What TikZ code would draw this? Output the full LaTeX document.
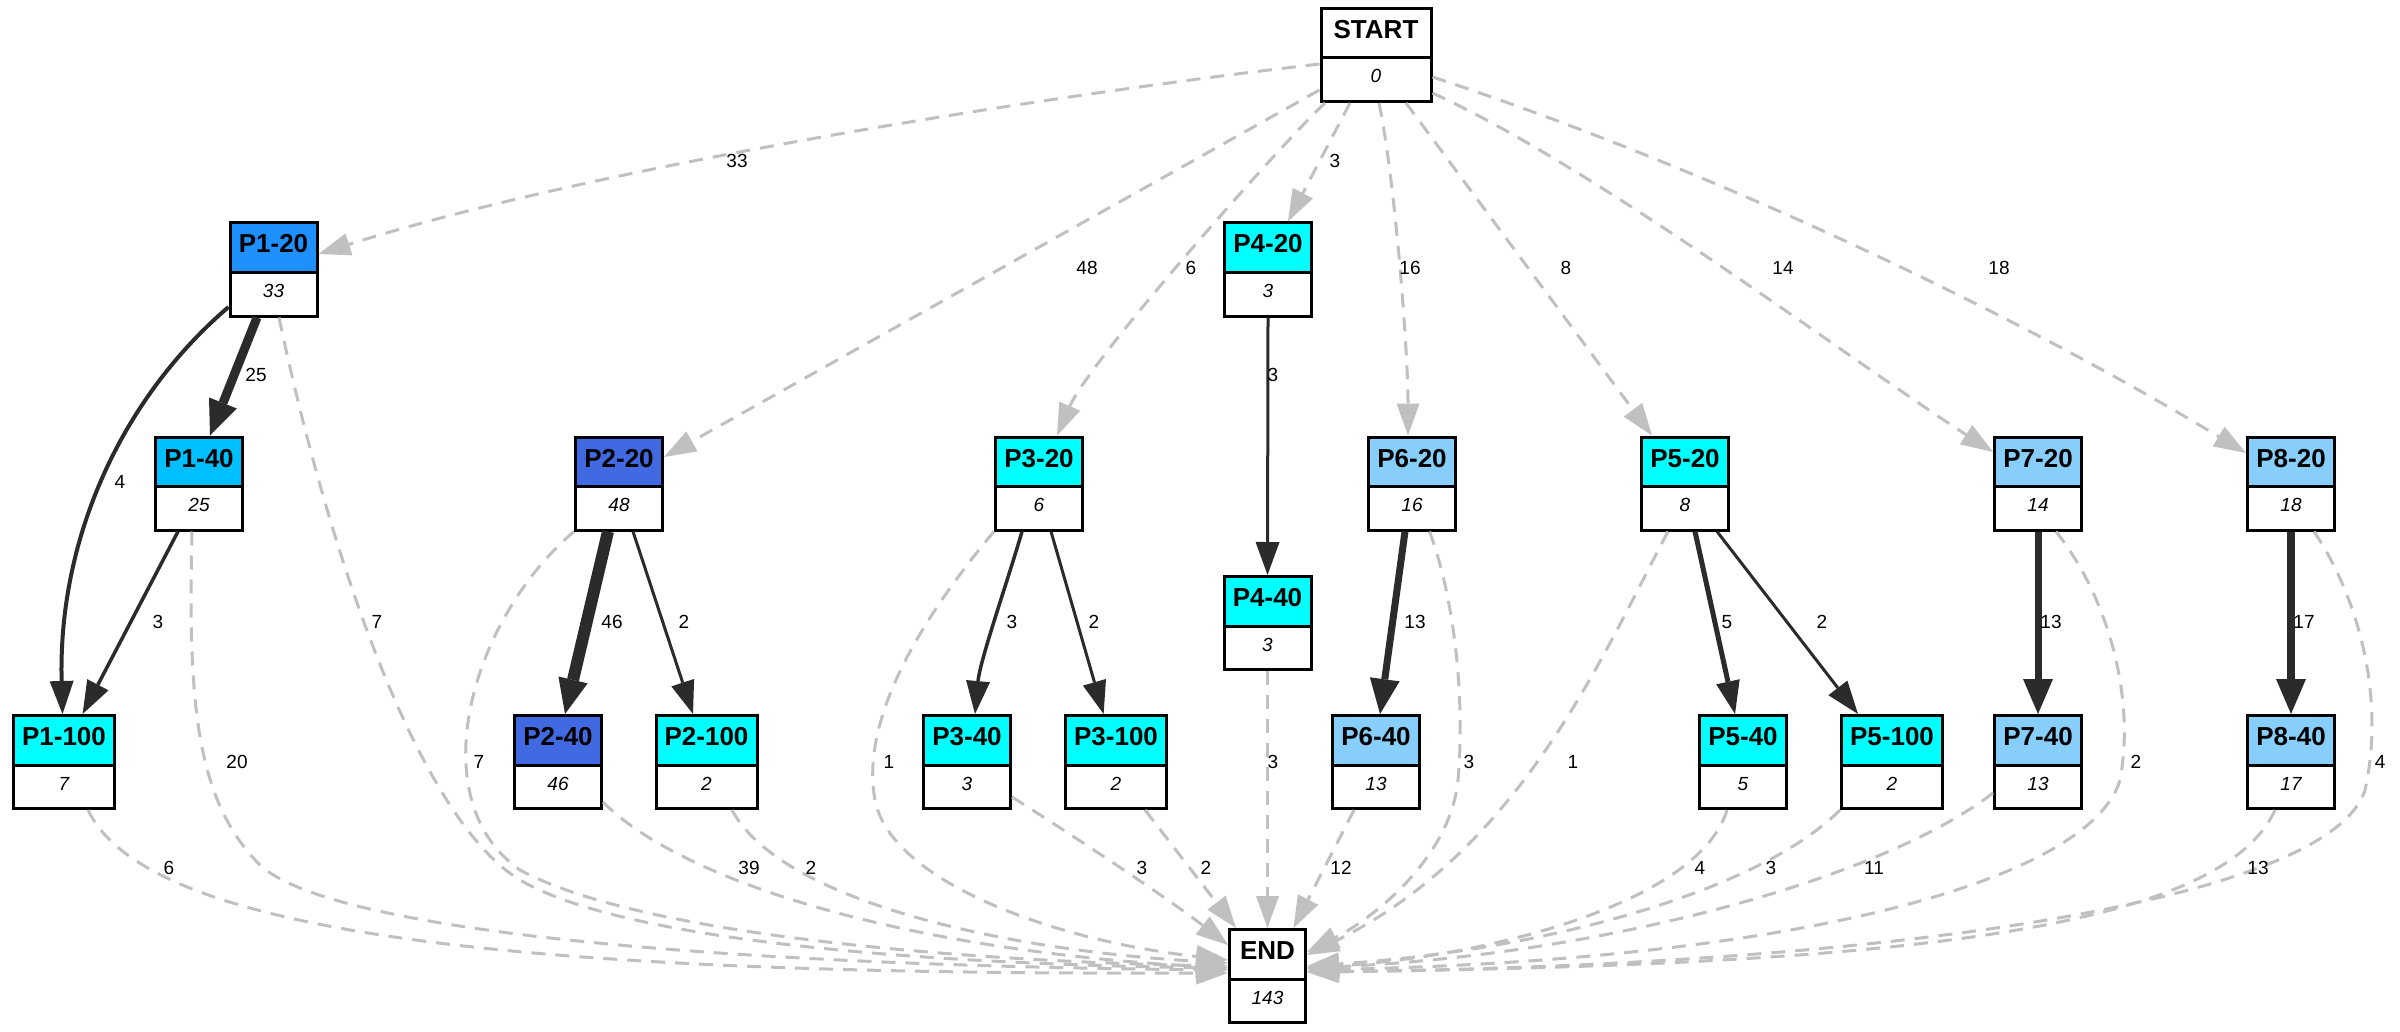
\documentclass[tikz,border=0pt]{standalone}
\usepackage{fontspec}
\setmainfont{Liberation Sans}
\usetikzlibrary{shapes.multipart,arrows.meta}
\definecolor{edgedark}{HTML}{2B2B2B}
\definecolor{edgegray}{HTML}{C0C0C0}
\definecolor{dodger}{HTML}{1E90FF}
\definecolor{deepsky}{HTML}{00BFFF}
\definecolor{aqua}{HTML}{00FFFF}
\definecolor{royal}{HTML}{4169E1}
\definecolor{lightsky}{HTML}{87CEFA}
% header and count cells of a record node, with fixed cell heights
\newcommand\boxhead[1]{\fontsize{26pt}{26pt}\selectfont\bfseries\rule[-18pt]{0pt}{46.5pt}#1}
\newcommand\boxval[1]{\fontsize{19pt}{19pt}\selectfont\itshape\rule[-17pt]{0pt}{40.5pt}#1}
\begin{document}
\begin{tikzpicture}[x=1pt,y=-1pt,
  box/.style={rectangle split, rectangle split parts=2, draw=black, line width=3pt,
    inner xsep=0pt, inner ysep=0pt, minimum width=87pt,
    rectangle split part fill={#1,white}},
  wide/.style={minimum width=101pt},
  flow/.style={draw=edgedark, line width=#1, -{Triangle[length=33pt,width=24pt,line width=0pt]}},
  heavy/.style={draw=edgedark, line width=#1, -{Triangle[length=35pt,width=30pt,line width=0pt]}},
  skip/.style={draw=edgegray, line width=3pt, dash pattern=on 14pt off 10pt,
    -{Triangle[length=32pt,width=23pt,line width=0pt]}},
  elab/.style={font=\fontsize{19pt}{19pt}\selectfont, inner sep=0pt, text=black}]
\useasboundingbox (0,0) rectangle (2400,1032);

% record nodes
\node[box=white, minimum width=110pt] (start) at (1376,55) {\boxhead{START}\nodepart{two}\boxval{0}};
\node[box=dodger] (p120) at (273.5,269.5) {\boxhead{P1-20}\nodepart{two}\boxval{33}};
\node[box=deepsky] (p140) at (199,483.5) {\boxhead{P1-40}\nodepart{two}\boxval{25}};
\node[box=aqua, wide] (p1100) at (64,762) {\boxhead{P1-100}\nodepart{two}\boxval{7}};
\node[box=royal] (p220) at (619,483.5) {\boxhead{P2-20}\nodepart{two}\boxval{48}};
\node[box=royal] (p240) at (558,762) {\boxhead{P2-40}\nodepart{two}\boxval{46}};
\node[box=aqua, wide] (p2100) at (706.5,762) {\boxhead{P2-100}\nodepart{two}\boxval{2}};
\node[box=aqua] (p320) at (1039,483.5) {\boxhead{P3-20}\nodepart{two}\boxval{6}};
\node[box=aqua] (p340) at (967,762) {\boxhead{P3-40}\nodepart{two}\boxval{3}};
\node[box=aqua, wide] (p3100) at (1116,762) {\boxhead{P3-100}\nodepart{two}\boxval{2}};
\node[box=aqua] (p420) at (1268,269.5) {\boxhead{P4-20}\nodepart{two}\boxval{3}};
\node[box=aqua] (p440) at (1267.5,623) {\boxhead{P4-40}\nodepart{two}\boxval{3}};
\node[box=lightsky] (p620) at (1412,483.5) {\boxhead{P6-20}\nodepart{two}\boxval{16}};
\node[box=lightsky] (p640) at (1376,762) {\boxhead{P6-40}\nodepart{two}\boxval{13}};
\node[box=aqua] (p520) at (1685,483.5) {\boxhead{P5-20}\nodepart{two}\boxval{8}};
\node[box=aqua] (p540) at (1743,762) {\boxhead{P5-40}\nodepart{two}\boxval{5}};
\node[box=aqua, wide] (p5100) at (1892,762) {\boxhead{P5-100}\nodepart{two}\boxval{2}};
\node[box=lightsky] (p720) at (2038,483.5) {\boxhead{P7-20}\nodepart{two}\boxval{14}};
\node[box=lightsky] (p740) at (2038,762) {\boxhead{P7-40}\nodepart{two}\boxval{13}};
\node[box=lightsky] (p820) at (2291,483.5) {\boxhead{P8-20}\nodepart{two}\boxval{18}};
\node[box=lightsky] (p840) at (2291,762) {\boxhead{P8-40}\nodepart{two}\boxval{17}};
\node[box=white, minimum width=76pt] (stop) at (1267.5,976) {\boxhead{END}\nodepart{two}\boxval{143}};

% entries from START
\draw[skip] ([yshift=-9pt]start.west) .. controls (1050,95) and (600,165) .. ([yshift=15.5pt]p120.east);
\draw[skip] ([yshift=-35pt]start.west) -- ([yshift=26.5pt]p220.east);
\draw[skip] ([xshift=-51pt]start.south) .. controls (1280,145) and (1090,360) .. ([xshift=18pt]p320.north);
\draw[skip] ([xshift=-26pt]start.south) -- ([xshift=20pt]p420.north);
\draw[skip] ([xshift=3pt]start.south) .. controls (1395,180) and (1408,350) .. ([xshift=-4pt]p620.north);
\draw[skip] ([xshift=30pt]start.south) -- ([xshift=-33pt]p520.north);
\draw[skip] ([yshift=-38pt]start.east) .. controls (1600,170) and (1850,360) .. ([yshift=31.5pt]p720.west);
\draw[skip] ([yshift=-22pt]start.east) .. controls (1700,165) and (2000,305) .. ([yshift=30.5pt]p820.west);

% transitions between stages
\draw[heavy=9pt] ([xshift=-16.5pt]p120.south) -- ([xshift=11pt]p140.north);
\draw[flow=4pt] ([yshift=-37.5pt]p120.west) .. controls (120,400) and (58,540) .. ([xshift=-1.5pt]p1100.north);
\draw[flow=3.5pt] ([xshift=-21pt]p140.south) -- ([xshift=18.6pt]p1100.north);
\draw[heavy=12pt] ([xshift=-11pt]p220.south) -- ([xshift=7pt]p240.north);
\draw[flow=3pt] ([xshift=14pt]p220.south) -- ([xshift=-13.5pt]p2100.north);
\draw[flow=3.5pt] ([xshift=-17pt]p320.south) .. controls (1008,580) and (980,660) .. ([xshift=8pt]p340.north);
\draw[flow=3pt] ([xshift=12pt]p320.south) -- ([xshift=-12.4pt]p3100.north);
\draw[flow=3pt] (p420.south) -- (p440.north);
\draw[heavy=7pt] ([xshift=-7pt]p620.south) -- ([xshift=4pt]p640.north);
\draw[flow=5pt] ([xshift=10pt]p520.south) -- ([xshift=-8pt]p540.north);
\draw[flow=3pt] ([xshift=32pt]p520.south) -- ([xshift=-34pt]p5100.north);
\draw[heavy=7pt] (p720.south) -- (p740.north);
\draw[heavy=8pt] (p820.south) -- (p840.north);

% exits to END
\draw[skip] ([xshift=24pt]p1100.south) .. controls (150,940) and (550,975) .. ([yshift=3pt]stop.west);
\draw[skip] ([xshift=-7pt]p140.south) .. controls (188,700) and (195,800) .. (260,865)
  .. controls (330,930) and (700,965) .. ([yshift=6pt]stop.west);
\draw[skip] ([xshift=5.5pt]p120.south) .. controls (330,560) and (420,820) .. (520,880)
  .. controls (640,950) and (1000,965) .. ([yshift=8pt]stop.west);
\draw[skip] (p220.south west) .. controls (470,620) and (420,800) .. (520,870)
  .. controls (650,940) and (1000,962) .. ([yshift=10pt]stop.west);
\draw[skip] ([yshift=-40pt]p240.east) .. controls (680,880) and (900,950) .. ([yshift=8pt]stop.west);
\draw[skip] ([xshift=25.5pt]p2100.south) .. controls (780,900) and (1000,950) .. ([yshift=13pt]stop.west);
\draw[skip] (p320.south west) .. controls (920,620) and (860,720) .. (875,800)
  .. controls (890,880) and (1050,940) .. ([yshift=16pt]stop.west);
\draw[skip] ([yshift=-35pt]p340.east) .. controls (1080,840) and (1170,900) .. ([yshift=31pt]stop.west);
\draw[skip] ([xshift=29pt]p3100.south) -- ([xshift=-31.5pt]stop.north);
\draw[skip] (p440.south) -- (stop.north);
\draw[skip] ([xshift=-22pt]p640.south) -- ([xshift=26pt]stop.north);
\draw[skip] ([xshift=17.5pt]p620.south) .. controls (1455,600) and (1465,700) .. (1458,780)
  .. controls (1450,860) and (1370,920) .. ([yshift=24pt]stop.east);
\draw[skip] ([xshift=-17pt]p520.south) .. controls (1600,660) and (1520,850) .. ([yshift=21pt]stop.east);
\draw[skip] ([xshift=-16pt]p540.south) .. controls (1700,900) and (1500,955) .. ([yshift=8pt]stop.east);
\draw[skip] (p5100.south west) .. controls (1760,890) and (1550,950) .. ([yshift=10pt]stop.east);
\draw[skip] ([yshift=-31pt]p740.west) .. controls (1880,880) and (1600,955) .. ([yshift=8pt]stop.east);
\draw[skip] ([xshift=18pt]p720.south) .. controls (2110,600) and (2135,700) .. (2120,780)
  .. controls (2090,880) and (1800,960) .. ([yshift=6pt]stop.east);
\draw[skip] ([xshift=-16pt]p840.south) .. controls (2220,930) and (1900,965) .. ([yshift=4pt]stop.east);
\draw[skip] ([xshift=23pt]p820.south) .. controls (2360,600) and (2385,700) .. (2365,790)
  .. controls (2330,900) and (1900,965) .. ([yshift=4pt]stop.east);

% edge counts
\node[elab] (l01) at (737,161) {33};
\node[elab] (l02) at (1087,268) {48};
\node[elab] (l03) at (1191,268) {6};
\node[elab] (l04) at (1335,161) {3};
\node[elab] (l05) at (1410,268) {16};
\node[elab] (l06) at (1566,268) {8};
\node[elab] (l07) at (1783,268) {14};
\node[elab] (l08) at (1999,268) {18};
\node[elab] (l09) at (256,375) {25};
\node[elab] (l10) at (1273,375) {3};
\node[elab] (l11) at (120,482) {4};
\node[elab] (l12) at (158,622) {3};
\node[elab] (l13) at (377,622) {7};
\node[elab] (l14) at (612,622) {46};
\node[elab] (l15) at (684,622) {2};
\node[elab] (l16) at (1012,622) {3};
\node[elab] (l17) at (1094,622) {2};
\node[elab] (l18) at (1415,622) {13};
\node[elab] (l19) at (1727,622) {5};
\node[elab] (l20) at (1822,622) {2};
\node[elab] (l21) at (2051,622) {13};
\node[elab] (l22) at (2304,622) {17};
\node[elab] (l23) at (237,762) {20};
\node[elab] (l24) at (479,762) {7};
\node[elab] (l25) at (889,762) {1};
\node[elab] (l26) at (1273,762) {3};
\node[elab] (l27) at (1469,762) {3};
\node[elab] (l28) at (1573,762) {1};
\node[elab] (l29) at (2136,762) {2};
\node[elab] (l30) at (2380,762) {4};
\node[elab] (l31) at (169,868) {6};
\node[elab] (l32) at (749,868) {39};
\node[elab] (l33) at (811,868) {2};
\node[elab] (l34) at (1142,868) {3};
\node[elab] (l35) at (1206,868) {2};
\node[elab] (l36) at (1341,868) {12};
\node[elab] (l37) at (1700,868) {4};
\node[elab] (l38) at (1771,868) {3};
\node[elab] (l39) at (1874,868) {11};
\node[elab] (l40) at (2258,868) {13};
\end{tikzpicture}
\end{document}
